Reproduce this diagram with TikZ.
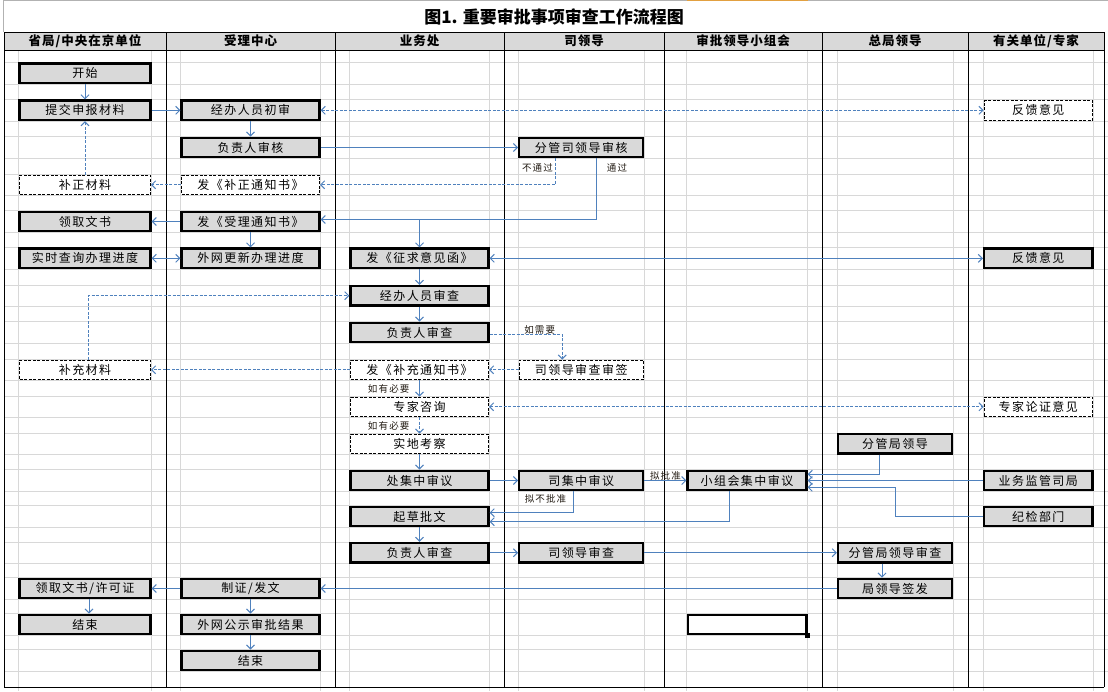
\documentclass[tikz,border=0pt]{standalone}
\usepackage{fontspec}
\setmainfont{Noto Sans CJK SC}
\newfontfamily\boxfont[LetterSpace=12]{Noto Sans CJK SC}
\newfontfamily\hdfont[LetterSpace=8]{Noto Sans CJK SC}
\newfontfamily\labfont[LetterSpace=12]{Noto Sans CJK SC}
\usetikzlibrary{arrows.meta}
\definecolor{lineblue}{RGB}{79,129,189}
\definecolor{boxgray}{RGB}{217,217,217}
\definecolor{gridgray}{RGB}{216,216,216}
\definecolor{labcol}{RGB}{35,28,20}
\definecolor{selorange}{RGB}{226,160,64}
\tikzset{
  base/.style={minimum height=19.5pt, inner sep=0pt, font=\boxfont\fontsize{12}{12}\selectfont},
  sbox/.style={base, draw=black, line width=2.2pt, fill=boxgray},
  dbox/.style={base, draw=black, line width=0.9pt, dash pattern=on 3pt off 1.5pt, fill=white},
  wa/.style={minimum width=131pt}, wb/.style={minimum width=138pt},
  wc/.style={minimum width=138pt}, wd/.style={minimum width=124pt},
  we/.style={minimum width=119pt}, wf/.style={minimum width=114pt},
  wg/.style={minimum width=108.5pt},
  conn/.style={draw=lineblue, line width=1pt, ->},
  dconn/.style={conn, dash pattern=on 3pt off 1.5pt},
  lab/.style={inner sep=0pt, text=labcol, font=\labfont\fontsize{9.5}{9.5}\selectfont},
  hd/.style={inner sep=0pt, font=\hdfont\bfseries\fontsize{12.5}{13}\selectfont},
  gridln/.style={draw=gridgray, line width=0.8pt},
  lane/.style={draw=black, line width=1pt}
}
\begin{document}
\begin{tikzpicture}[x=1pt,y=-1pt,>={Straight Barb[length=4pt,width=8pt]}]
\useasboundingbox (0,0) rectangle (1108,691);
\fill[white] (0,0) rectangle (1108,691);
% grid
\foreach \c in {73.3,110.3,147.5,184.8,221.5,258.3,295.7,332.5,369.8,406.8,443.8,480.5,516.5,552.7,588.5,624.5,660.5}{
  \draw[gridln] (4,{\c-10.75}) -- (1108,{\c-10.75});
  \draw[gridln] (4,{\c+10.75}) -- (1108,{\c+10.75});
}
\foreach \x in {18.7,151.2,180.6,320.5,349.4,489.5,518.5,644,686.5,807.5,837,953,983,1093.5}{
  \draw[gridln] (\x,50) -- (\x,691);
}
% title cell
\draw[draw=gray!60, line width=0.8pt] (3.5,32) -- (3.5,0.8) -- (1108,0.8);
\draw[draw=selorange, line width=1.5pt] (686.5,0.4) -- (807.5,0.4);
\node[font=\bfseries\fontsize{17}{17}\selectfont] (title) at (554,17) {图1. 重要审批事项审查工作流程图};
% header
\fill[boxgray] (4,32) rectangle (1104,50);
\draw[lane] (4,32) -- (1104,32);
\draw[lane] (4,50) -- (1104,50);
\draw[lane] (4,687) -- (1104,687);
\foreach \x in {4,166,335,504,664,822,968,1104}{
  \draw[lane] (\x,32) -- (\x,687);
}
\node[hd] (h1) at (85,41) {省局/中央在京单位};
\node[hd] (h2) at (250.5,41) {受理中心};
\node[hd] (h3) at (419.5,41) {业务处};
\node[hd] (h4) at (584,41) {司领导};
\node[hd] (h5) at (743,41) {审批领导小组会};
\node[hd] (h6) at (895,41) {总局领导};
\node[hd] (h7) at (1036,41) {有关单位/专家};
% nodes
\node[sbox,wa] (start) at (85,73.3) {开始};
\node[sbox,wa] (submit) at (85,110.3) {提交申报材料};
\node[sbox,wb] (jbcs) at (250.5,110.3) {经办人员初审};
\node[dbox,wg] (fk1) at (1038.3,110.3) {反馈意见};
\node[sbox,wb] (fzsh) at (250.5,147.5) {负责人审核};
\node[sbox,wd] (fgsl) at (581.2,147.5) {分管司领导审核};
\node[dbox,wa] (bzcl) at (85,184.8) {补正材料};
\node[dbox,wb] (fbz) at (250.5,184.8) {发《补正通知书》};
\node[sbox,wa] (lqws) at (85,221.5) {领取文书};
\node[sbox,wb] (fsl) at (250.5,221.5) {发《受理通知书》};
\node[sbox,wa] (sscx) at (85,258.3) {实时查询办理进度};
\node[sbox,wb] (wwgx) at (250.5,258.3) {外网更新办理进度};
\node[sbox,wc] (fzq) at (419.5,258.3) {发《征求意见函》};
\node[sbox,wg] (fk2) at (1038.3,258.3) {反馈意见};
\node[sbox,wc] (jbsc) at (419.5,295.7) {经办人员审查};
\node[sbox,wc] (fzsc) at (419.5,332.5) {负责人审查};
\node[dbox,wa] (bccl) at (85,369.8) {补充材料};
\node[dbox,wc] (fbc) at (419.5,369.8) {发《补充通知书》};
\node[dbox,wd] (sldsq) at (581.2,369.8) {司领导审查审签};
\node[dbox,wc] (zjzx) at (419.5,406.8) {专家咨询};
\node[dbox,wg] (zjlz) at (1038.3,406.8) {专家论证意见};
\node[dbox,wc] (sdkc) at (419.5,443.8) {实地考察};
\node[sbox,wf] (fgjld) at (895,443.8) {分管局领导};
\node[sbox,wc] (cjz) at (419.5,480.5) {处集中审议};
\node[sbox,wd] (sjz) at (581.2,480.5) {司集中审议};
\node[sbox,we] (xzh) at (747,480.5) {小组会集中审议};
\node[sbox,wg] (ywjg) at (1038.3,480.5) {业务监管司局};
\node[sbox,wc] (qcpw) at (419.5,516.5) {起草批文};
\node[sbox,wg] (jjbm) at (1038.3,516.5) {纪检部门};
\node[sbox,wc] (fzsc2) at (419.5,552.7) {负责人审查};
\node[sbox,wd] (sldsc) at (581.2,552.7) {司领导审查};
\node[sbox,wf] (fgjsc) at (895,552.7) {分管局领导审查};
\node[sbox,wa] (lqxk) at (85,588.5) {领取文书/许可证};
\node[sbox,wb] (zz) at (250.5,588.5) {制证/发文};
\node[sbox,wf] (jldqf) at (895,588.5) {局领导签发};
\node[sbox,wa] (end1) at (85,624.5) {结束};
\node[sbox,wb] (wwgs) at (250.5,624.5) {外网公示审批结果};
\node[sbox,wb] (end2) at (250.5,660.5) {结束};
% excel selection
\node[draw=black, line width=2.5pt, minimum width=118.5pt, minimum height=19pt, inner sep=0pt] (sel) at (747,624.5) {};
\fill[black] ([xshift=-2.5pt,yshift=-2.5pt]sel.south east) rectangle ([xshift=2.5pt,yshift=2.5pt]sel.south east);
% labels
\node[lab] (l1) at (537.5,167.7) {不通过};
\node[lab] (l2) at (617,167.7) {通过};
\node[lab] (l3) at (539.7,329.5) {如需要};
\node[lab] (l4) at (388.7,389.3) {如有必要};
\node[lab] (l5) at (388.7,426) {如有必要};
\node[lab] (l6) at (665.5,475.7) {拟批准};
\node[lab] (l7) at (545.5,499.3) {拟不批准};
% connectors
\draw[conn] (start) -- (submit);
\draw[conn] (submit) -- (jbcs);
\draw[conn] (jbcs) -- (fzsh);
\draw[dconn,<->] (jbcs) -- (fk1);
\draw[conn] (fzsh) -- (fgsl);
\draw[dconn] ([xshift=-26pt]fgsl.south) |- (fbz.east);
\draw[conn] ([xshift=15.5pt]fgsl.south) |- ([yshift=2pt]fsl.east);
\draw[conn] ([yshift=2pt]fzq.north |- fsl.east) -- (fzq.north);
\draw[conn] (fsl) -- (lqws);
\draw[dconn] (fbz) -- (bzcl);
\draw[dconn] (bzcl) -- (submit);
\draw[conn] (fsl) -- (wwgx);
\draw[conn,<->] (sscx) -- (wwgx);
\draw[conn,<->] (fzq) -- (fk2);
\draw[conn] (fzq) -- (jbsc);
\draw[conn] (jbsc) -- (fzsc);
\draw[dconn] ([xshift=3pt]bccl.north) |- (jbsc.west);
\draw[dconn] ([yshift=-1.8pt]fzsc.east) -| ([xshift=-19pt]sldsq.north);
\draw[dconn] (sldsq) -- (fbc);
\draw[dconn] (fbc) -- (bccl);
\draw[conn] (fbc) -- (zjzx);
\draw[dconn] (zjzx) -- (sdkc);
\draw[dconn,<->] (zjzx) -- (zjlz);
\draw[conn] (sdkc) -- (cjz);
\draw[conn] (cjz) -- (sjz);
\draw[conn] (sjz) -- (xzh);
\draw[conn] ([xshift=-8pt]sjz.south) |- ([yshift=3.8pt]qcpw.east);
\draw[conn] ([xshift=-18pt]xzh.south) |- ([yshift=-5.2pt]qcpw.east);
\draw[conn] ([xshift=-16pt]fgjld.south) |- ([yshift=6.2pt]xzh.east);
\draw[conn] (ywjg) -- (xzh);
\draw[conn] (jjbm.west) -- ++(-87,0) |- ([yshift=-6.8pt]xzh.east);
\draw[conn] (fzsc2) -- (sldsc);
\draw[conn] (sldsc) -- (fgjsc);
\draw[conn] ([xshift=-13pt]fgjsc.south) -- ([xshift=-13pt]jldqf.north);
\draw[conn] (qcpw) -- (fzsc2);
\draw[conn] (jldqf) -- (zz);
\draw[conn] (zz) -- (lqxk);
\draw[conn] ([xshift=4pt]lqxk.south) -- ([xshift=4pt]end1.north);
\draw[conn] (zz) -- (wwgs);
\draw[conn] (wwgs) -- (end2);
\end{tikzpicture}
\end{document}
